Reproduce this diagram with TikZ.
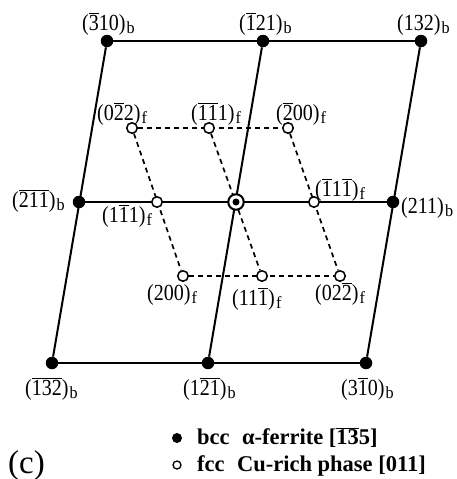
\documentclass[tikz,border=0pt]{standalone}
\usepackage{fontspec}
\setmainfont{Liberation Serif}
\newfontfamily\labfont[FakeStretch=0.87]{Liberation Serif}
\newfontfamily\subfont[FakeStretch=0.95]{Liberation Serif}
\usetikzlibrary{backgrounds}
\newcommand\ob[1]{\ensuremath{\overline{\mbox{#1}}}}
\newcommand\subx[1]{\hspace{1.2pt}\raisebox{-3.2pt}{\subfont\fontsize{17}{17}\selectfont #1}}
\begin{document}
\begin{tikzpicture}[x=1pt,y=-1pt,
 bcc/.style={circle,fill=black,inner sep=0pt,minimum size=12.5pt},
 fcc/.style={circle,draw=black,fill=white,line width=1.5pt,inner sep=0pt,minimum size=10.5pt},
 lab/.style={inner sep=0pt,anchor=base west,font=\labfont\fontsize{23}{25}\selectfont},
 leg/.style={inner sep=0pt,anchor=base west,font=\fontsize{22.5}{24}\selectfont\bfseries},
 solidline/.style={line width=2pt},
 dashline/.style={line width=1.7pt,dash pattern=on 5pt off 4pt}]
\useasboundingbox (0,0) rectangle (457,479);
% bcc spots
\node[bcc] (b1) at (107,41) {};
\node[bcc] (b2) at (263,41) {};
\node[bcc] (b3) at (421,41) {};
\node[bcc] (b4) at (79,202) {};
\node[bcc] (b6) at (393,202) {};
\node[bcc] (b7) at (52,363) {};
\node[bcc] (b8) at (208,363) {};
\node[bcc] (b9) at (366,363) {};
% fcc spots
\node[fcc] (f1) at (132,128) {};
\node[fcc] (f2) at (209,128) {};
\node[fcc] (f3) at (288,128) {};
\node[fcc] (f4) at (157,202) {};
\node[fcc] (f6) at (314,202) {};
\node[fcc] (f7) at (183,276) {};
\node[fcc] (f8) at (262,276) {};
\node[fcc] (f9) at (340,276) {};
% center
\node[fcc,line width=2pt,minimum size=15.5pt] (c) at (236,202) {};
\node[bcc,minimum size=7pt] (cdot) at (236,202) {};
\begin{pgfonlayer}{background}
\draw[solidline] (b1) -- (b3);
\draw[solidline] (b4) -- (b6);
\draw[solidline] (b7) -- (b9);
\draw[solidline] (b1) -- (b7);
\draw[solidline] (b2) -- (b8);
\draw[solidline] (b3) -- (b9);
\draw[dashline] (f1) -- (f3);
\draw[dashline] (f7) -- (f9);
\draw[dashline] (f1) -- (f7);
\draw[dashline] (f2) -- (f8);
\draw[dashline] (f3) -- (f9);
\end{pgfonlayer}
% labels
\node[lab] (l1) at (82,30) {(\ob{3}10)\subx{b}};
\node[lab] (l2) at (239,30) {(\ob{1}21)\subx{b}};
\node[lab] (l3) at (397,30) {(132)\subx{b}};
\node[lab] (l4) at (97,120) {(0\ob{2}2)\subx{f}};
\node[lab] (l5) at (191,120) {(\ob{1}\ob{1}1)\subx{f}};
\node[lab] (l6) at (276,120) {(\ob{2}00)\subx{f}};
\node[lab] (l7) at (12,207) {(\ob{2}\ob{1}\ob{1})\subx{b}};
\node[lab] (l8) at (102,222) {(1\ob{1}1)\subx{f}};
\node[lab] (l9) at (315,196) {(\ob{1}1\ob{1})\subx{f}};
\node[lab] (l10) at (401,213) {(211)\subx{b}};
\node[lab] (l11) at (147,300) {(200)\subx{f}};
\node[lab] (l12) at (232,305) {(11\ob{1})\subx{f}};
\node[lab] (l13) at (315,300) {(02\ob{2})\subx{f}};
\node[lab] (l14) at (25,395) {(\ob{1}\ob{3}\ob{2})\subx{b}};
\node[lab] (l15) at (183,395) {(1\ob{2}\ob{1})\subx{b}};
\node[lab] (l16) at (341,395) {(3\ob{1}0)\subx{b}};
% legend
\node[bcc,minimum size=10pt] (lb) at (177,438) {};
\node[fcc,minimum size=8pt,line width=1.3pt] (lf) at (177,465) {};
\node[leg] (lt1) at (197,444) {bcc\hspace{0.55em}α-ferrite [\ob{1}\ob{3}5]};
\node[leg] (lt2) at (197,471) {fcc\hspace{0.55em}Cu-rich phase [011]};
\node[inner sep=0pt,anchor=base west,font=\fontsize{33}{36}\selectfont] (lc) at (8,473) {(c)};
\end{tikzpicture}
\end{document}
